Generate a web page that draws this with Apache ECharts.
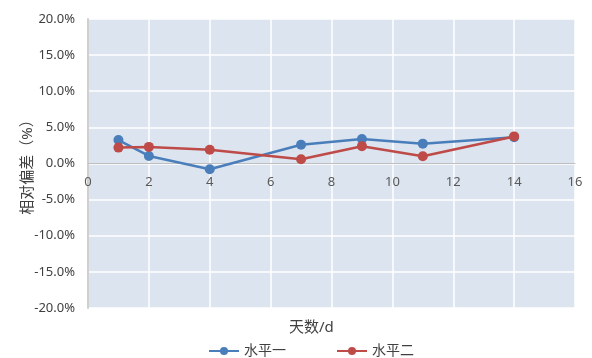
<!DOCTYPE html>
<html><head><meta charset="utf-8">
<script src="https://cdn.jsdelivr.net/npm/echarts@6/dist/echarts.min.js"></script>
<style>html,body{margin:0;padding:0;background:#fff}#c{width:592px;height:358px}</style>
</head><body><div id="c"></div>
<script>
const days = [1, 2, 4, 7, 9, 11, 14];
const level1 = [3.25, 1.05, -0.8, 2.6, 3.4, 2.75, 3.65];
const level2 = [2.2, 2.3, 1.9, 0.6, 2.4, 1.0, 3.75];
const seriesNames = ['水平一', '水平二'];
const xTitle = '天数/d';
const yTitle = '相对偏差（%）';

const font = '"Noto Sans", "Noto Sans CJK SC", sans-serif';
const chart = echarts.init(document.getElementById('c'));
const mk = (vals) => days.map((d, i) => [d, vals[i] / 100]);
chart.setOption({
  animation: false,
  textStyle: {fontFamily: font},
  grid: {left: 88, right: 17, top: 19, bottom: 50, show: true, backgroundColor: '#dbe4ef', borderWidth: 0},
  title: {text: xTitle, left: 289, top: 320, padding: 0, textStyle: {fontSize: 15, fontWeight: 'normal', color: '#404040', fontFamily: font}},
  legend: {
    data: seriesNames, top: 339, left: 203, itemGap: 50, itemWidth: 30, itemHeight: 10,
    textStyle: {fontSize: 14, color: '#404040'}
  },
  xAxis: {
    type: 'value', min: 0, max: 16, interval: 2,
    axisLine: {onZero: false, lineStyle: {color: '#bfbfbf', width: 1}},
    offset: -144.5,
    axisTick: {show: false},
    axisLabel: {color: '#595959', fontSize: 13, margin: 12},
    splitLine: {show: true, lineStyle: {color: '#ffffff', width: 1.5}}
  },
  yAxis: {
    type: 'value', min: -0.2, max: 0.2, interval: 0.05,
    name: yTitle, nameLocation: 'middle', nameGap: 53, nameRotate: 90, nameMoveOverlap: false,
    nameTextStyle: {fontSize: 15, color: '#404040'},
    axisLine: {show: true, lineStyle: {color: '#d0d0d0', width: 2}},
    axisTick: {show: false},
    axisLabel: {color: '#404040', fontSize: 13, margin: 13, formatter: v => (v * 100).toFixed(1) + '%'},
    splitLine: {show: true, lineStyle: {color: '#ffffff', width: 1.5}}
  },
  series: [
    {name: seriesNames[0], type: 'line', data: mk(level1), symbol: 'circle', symbolSize: 10,
     itemStyle: {color: '#4a7ebb'}, lineStyle: {color: '#4a7ebb', width: 2.5}},
    {name: seriesNames[1], type: 'line', data: mk(level2), symbol: 'circle', symbolSize: 10,
     itemStyle: {color: '#be4b48'}, lineStyle: {color: '#be4b48', width: 2.5}}
  ]
});
</script></body></html>
